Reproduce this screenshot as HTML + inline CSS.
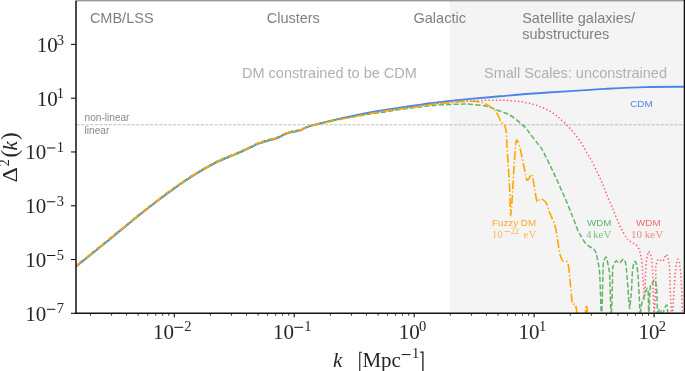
<!DOCTYPE html>
<html><head><meta charset="utf-8"><style>
html,body{margin:0;padding:0;background:#fff;width:685px;height:371px;overflow:hidden}
svg{display:block;will-change:transform}
.tk{stroke:#111;stroke-width:1.1}
.tkm{stroke:#111;stroke-width:0.9}
.tl{font-family:"Liberation Serif",serif;font-size:21px;fill:#262626}
.sup{font-size:14.5px}
.an{font-family:"Liberation Sans",sans-serif;font-size:14.5px;fill:#808080}
.an2{font-family:"Liberation Sans",sans-serif;font-size:14.5px;fill:#b0b0b0}
.sm{font-family:"Liberation Sans",sans-serif;font-size:9.8px}
.smf{font-family:"Liberation Serif",serif;font-size:11px;fill-opacity:0.8}
</style></head><body>
<svg width="685" height="371" viewBox="0 0 685 371">
<rect x="449.8" y="0" width="236" height="313.2" fill="#f4f4f4"/>
<line x1="76.5" y1="124.8" x2="684" y2="124.8" stroke="#bdbdbd" stroke-width="1" stroke-dasharray="3.2 1.4"/>
<text x="84.6" y="120.9" class="sm" fill="#888" style="font-size:10.1px">non-linear</text>
<text x="84.6" y="133.6" class="sm" fill="#888" style="font-size:10.1px">linear</text>
<text x="89.9" y="23" class="an">CMB/LSS</text>
<text x="266.7" y="23" class="an">Clusters</text>
<text x="413.5" y="23" class="an">Galactic</text>
<text x="522.2" y="23" class="an">Satellite galaxies/</text>
<text x="522.3" y="39.2" class="an">substructures</text>
<text x="242" y="77.8" class="an2">DM constrained to be CDM</text>
<text x="484" y="77.8" class="an2">Small Scales: unconstrained</text>
<text x="630.3" y="106.5" class="sm" fill="#4a86e8">CDM</text>
<text x="492" y="226.1" class="sm" fill="#ffa726">Fuzzy DM</text>
<text x="491.8" y="238" class="smf" fill="#ffa726">10</text>
<rect x="504.6" y="231.1" width="5.1" height="0.7" fill="#ffa726"/>
<text x="510.4" y="233.8" class="smf" fill="#ffa726" style="font-size:8.5px">22</text>
<text x="523.5" y="238" class="smf" fill="#ffa726">eV</text>
<text x="586.9" y="226.1" class="sm" fill="#62b566">WDM</text>
<text x="586" y="237.8" class="smf" fill="#62b566">4</text>
<text x="593.1" y="237.8" class="smf" fill="#62b566">keV</text>
<text x="636.1" y="226.1" class="sm" fill="#f26b6b">WDM</text>
<text x="631.1" y="237.8" class="smf" fill="#f26b6b">10</text>
<text x="644.8" y="237.8" class="smf" fill="#f26b6b">keV</text>
<defs><clipPath id="ax"><rect x="76" y="0" width="608" height="313.2"/></clipPath></defs>
<g clip-path="url(#ax)" fill="none" stroke-linejoin="round">
<path d="M74.00,267.60 C74.33,267.33 73.67,267.85 76.00,266.00 C78.33,264.15 84.00,259.70 88.00,256.50 C92.00,253.30 96.00,250.05 100.00,246.80 C104.00,243.55 108.00,240.27 112.00,237.00 C116.00,233.73 120.00,230.47 124.00,227.20 C128.00,223.93 132.00,220.62 136.00,217.40 C140.00,214.18 144.00,211.03 148.00,207.90 C152.00,204.77 156.00,201.63 160.00,198.60 C164.00,195.57 168.00,192.58 172.00,189.70 C176.00,186.82 180.00,184.00 184.00,181.30 C188.00,178.60 192.00,175.97 196.00,173.50 C200.00,171.03 204.33,168.55 208.00,166.50 C211.67,164.45 215.17,162.58 218.00,161.20 C220.83,159.82 221.33,159.73 225.00,158.20 C228.67,156.67 235.83,153.82 240.00,152.00 C244.17,150.18 247.00,148.73 250.00,147.30 C253.00,145.87 255.50,144.42 258.00,143.40 C260.50,142.38 263.00,141.82 265.00,141.20 C267.00,140.58 268.17,140.22 270.00,139.70 C271.83,139.18 274.33,138.63 276.00,138.10 C277.67,137.57 278.43,137.25 280.00,136.50 C281.57,135.75 283.60,134.35 285.40,133.60 C287.20,132.85 289.00,132.45 290.80,132.00 C292.60,131.55 294.40,131.35 296.20,130.91 C298.00,130.47 299.30,130.21 301.60,129.36 C303.90,128.52 306.10,127.04 310.00,125.84 C313.90,124.65 320.00,123.37 325.00,122.19 C330.00,121.00 335.00,119.78 340.00,118.73 C345.00,117.68 350.00,116.82 355.00,115.87 C360.00,114.92 365.00,113.88 370.00,113.01 C375.00,112.15 380.00,111.39 385.00,110.66 C390.00,109.92 392.50,109.64 400.00,108.60 C407.50,107.56 422.50,105.33 430.00,104.40 C437.50,103.47 440.00,103.48 445.00,103.00 C450.00,102.52 455.83,101.88 460.00,101.50 C464.17,101.12 465.00,100.90 470.00,100.70 C475.00,100.50 484.48,100.37 490.00,100.30 C495.52,100.23 500.27,100.30 503.10,100.30 C505.93,100.30 505.70,100.23 507.00,100.30 C508.30,100.37 509.67,100.57 510.90,100.70 C512.13,100.83 513.15,101.00 514.40,101.10 C515.65,101.20 517.08,101.18 518.40,101.30 C519.72,101.42 521.03,101.57 522.30,101.80 C523.57,102.03 524.75,102.45 526.00,102.70 C527.25,102.95 528.58,103.02 529.80,103.30 C531.02,103.58 532.07,104.03 533.30,104.40 C534.53,104.77 536.00,105.10 537.20,105.50 C538.40,105.90 539.33,106.33 540.50,106.80 C541.67,107.27 543.03,107.78 544.20,108.30 C545.37,108.82 546.37,109.32 547.50,109.90 C548.63,110.48 549.87,111.12 551.00,111.80 C552.13,112.48 553.23,113.25 554.30,114.00 C555.37,114.75 556.42,115.47 557.40,116.30 C558.38,117.13 558.78,117.70 560.20,119.00 C561.62,120.30 564.15,122.38 565.90,124.10 C567.65,125.82 569.03,127.40 570.70,129.30 C572.37,131.20 574.27,133.40 575.90,135.50 C577.53,137.60 579.07,139.75 580.50,141.90 C581.93,144.05 583.25,146.23 584.50,148.40 C585.75,150.57 586.80,152.80 588.00,154.90 C589.20,157.00 589.95,157.67 591.70,161.00 C593.45,164.33 596.58,170.85 598.50,174.90 C600.42,178.95 601.72,181.73 603.20,185.30 C604.68,188.87 605.92,192.67 607.40,196.30 C608.88,199.93 610.63,203.62 612.10,207.10 C613.57,210.58 614.73,213.72 616.20,217.20 C617.67,220.68 619.22,224.62 620.90,228.00 C622.58,231.38 624.95,235.42 626.30,237.50 C627.65,239.58 628.02,239.63 629.00,240.50 C629.98,241.37 631.07,242.03 632.20,242.70 C633.33,243.37 634.80,243.73 635.80,244.50 C636.80,245.27 637.57,246.25 638.20,247.30 C638.83,248.35 639.22,249.58 639.60,250.80 C639.98,252.02 640.20,253.35 640.50,254.60 C640.80,255.85 641.17,257.05 641.40,258.30 C641.63,259.55 641.75,260.83 641.90,262.10 C642.05,263.37 642.20,264.65 642.30,265.90 C642.40,267.15 642.42,267.72 642.50,269.60 C642.58,271.48 642.62,274.33 642.80,277.20 C642.98,280.07 643.35,283.17 643.60,286.80 C643.85,290.43 644.07,298.47 644.30,299.00 C644.53,299.53 644.80,294.12 645.00,290.00 C645.20,285.88 645.35,277.97 645.50,274.30 C645.65,270.63 645.77,269.90 645.90,268.00 C646.03,266.10 646.18,264.37 646.30,262.90 C646.42,261.43 646.38,260.47 646.60,259.20 C646.82,257.93 647.30,256.58 647.60,255.30 C647.90,254.02 647.93,251.73 648.40,251.50 C648.87,251.27 649.92,252.88 650.40,253.90 C650.88,254.92 651.03,256.42 651.30,257.60 C651.57,258.78 651.80,259.10 652.00,261.00 C652.20,262.90 652.37,267.13 652.50,269.00 C652.63,270.87 652.70,268.70 652.80,272.20 C652.90,275.70 652.87,283.20 653.10,290.00 C653.33,296.80 653.80,313.00 654.20,313.00 C654.60,313.00 655.23,296.53 655.50,290.00 C655.77,283.47 655.75,277.75 655.80,273.80 C655.85,269.85 655.62,268.18 655.80,266.30 C655.98,264.42 656.50,263.67 656.90,262.50 C657.30,261.33 657.58,259.67 658.20,259.30 C658.82,258.93 659.78,260.00 660.60,260.30 C661.42,260.60 662.47,261.55 663.10,261.10 C663.73,260.65 663.87,258.68 664.40,257.60 C664.93,256.52 665.72,254.60 666.30,254.60 C666.88,254.60 667.53,256.47 667.90,257.60 C668.27,258.73 668.27,260.13 668.50,261.40 C668.73,262.67 669.08,263.32 669.30,265.20 C669.52,267.08 669.65,268.57 669.80,272.70 C669.95,276.83 669.83,282.78 670.20,290.00 C670.57,297.22 671.37,316.00 672.00,316.00 C672.63,316.00 673.47,297.03 674.00,290.00 C674.53,282.97 674.87,277.67 675.20,273.80 C675.53,269.93 675.78,268.60 676.00,266.80 C676.22,265.00 676.28,264.25 676.50,263.00 C676.72,261.75 676.83,259.57 677.30,259.30 C677.77,259.03 678.90,260.42 679.30,261.40 C679.70,262.38 679.48,263.32 679.70,265.20 C679.92,267.08 680.27,268.57 680.60,272.70 C680.93,276.83 681.38,282.78 681.70,290.00 C682.02,297.22 682.37,311.67 682.50,316.00" stroke="#ff5c64" stroke-width="1.5" stroke-dasharray="1.4 2.3"/>
<path d="M74.00,268.05 C74.33,267.78 73.67,268.30 76.00,266.45 C78.33,264.60 84.00,260.15 88.00,256.95 C92.00,253.75 96.00,250.50 100.00,247.25 C104.00,244.00 108.00,240.72 112.00,237.45 C116.00,234.18 120.00,230.92 124.00,227.65 C128.00,224.38 132.00,221.07 136.00,217.85 C140.00,214.63 144.00,211.48 148.00,208.35 C152.00,205.22 156.00,202.08 160.00,199.05 C164.00,196.02 168.00,193.03 172.00,190.15 C176.00,187.27 180.00,184.45 184.00,181.75 C188.00,179.05 192.00,176.42 196.00,173.95 C200.00,171.48 204.33,169.00 208.00,166.95 C211.67,164.90 215.17,163.03 218.00,161.65 C220.83,160.27 221.33,160.18 225.00,158.65 C228.67,157.12 235.83,154.27 240.00,152.45 C244.17,150.63 247.00,149.18 250.00,147.75 C253.00,146.32 255.50,144.87 258.00,143.85 C260.50,142.83 263.00,142.27 265.00,141.65 C267.00,141.03 268.17,140.67 270.00,140.15 C271.83,139.63 274.33,139.08 276.00,138.55 C277.67,138.02 278.43,137.70 280.00,136.95 C281.57,136.20 283.60,134.80 285.40,134.05 C287.20,133.30 289.00,132.90 290.80,132.45 C292.60,132.00 294.40,131.80 296.20,131.35 C298.00,130.90 299.30,130.62 301.60,129.74 C303.90,128.87 306.10,127.36 310.00,126.11 C313.90,124.85 320.00,123.49 325.00,122.24 C330.00,120.98 335.00,119.69 340.00,118.57 C345.00,117.45 350.00,116.52 355.00,115.50 C360.00,114.48 365.00,113.37 370.00,112.44 C375.00,111.50 380.00,110.67 385.00,109.87 C390.00,109.06 395.00,108.33 400.00,107.60 C405.00,106.87 410.00,106.22 415.00,105.50 C420.00,104.78 425.00,103.97 430.00,103.30 C435.00,102.63 440.00,102.07 445.00,101.50 C450.00,100.93 455.83,100.33 460.00,99.90 C464.17,99.47 463.33,99.50 470.00,98.90 C476.67,98.30 490.00,97.15 500.00,96.30 C510.00,95.45 518.33,94.67 530.00,93.80 C541.67,92.93 557.50,91.92 570.00,91.10 C582.50,90.28 592.50,89.57 605.00,88.90 C617.50,88.23 631.50,87.45 645.00,87.10 C658.50,86.75 679.17,86.85 686.00,86.80" stroke="#4a86e8" stroke-width="1.9"/>
<path d="M74.00,267.15 C74.33,266.88 73.67,267.40 76.00,265.55 C78.33,263.70 84.00,259.25 88.00,256.05 C92.00,252.85 96.00,249.60 100.00,246.35 C104.00,243.10 108.00,239.82 112.00,236.55 C116.00,233.28 120.00,230.02 124.00,226.75 C128.00,223.48 132.00,220.17 136.00,216.95 C140.00,213.73 144.00,210.58 148.00,207.45 C152.00,204.32 156.00,201.18 160.00,198.15 C164.00,195.12 168.00,192.13 172.00,189.25 C176.00,186.37 180.00,183.55 184.00,180.85 C188.00,178.15 192.00,175.52 196.00,173.05 C200.00,170.58 204.33,168.10 208.00,166.05 C211.67,164.00 215.17,162.13 218.00,160.75 C220.83,159.37 221.33,159.28 225.00,157.75 C228.67,156.22 235.83,153.37 240.00,151.55 C244.17,149.73 247.00,148.28 250.00,146.85 C253.00,145.42 255.50,143.97 258.00,142.95 C260.50,141.93 263.00,141.37 265.00,140.75 C267.00,140.13 268.17,139.77 270.00,139.25 C271.83,138.73 274.33,138.18 276.00,137.65 C277.67,137.12 278.43,136.80 280.00,136.05 C281.57,135.30 283.60,133.90 285.40,133.15 C287.20,132.40 289.00,131.99 290.80,131.55 C292.60,131.11 294.40,130.90 296.20,130.49 C298.00,130.07 299.30,129.84 301.60,129.04 C303.90,128.25 306.10,126.81 310.00,125.69 C313.90,124.57 320.00,123.42 325.00,122.33 C330.00,121.25 335.00,120.13 340.00,119.17 C345.00,118.22 350.00,117.47 355.00,116.62 C360.00,115.76 365.00,114.83 370.00,114.06 C375.00,113.29 380.00,112.76 385.00,112.00 C390.00,111.24 395.00,110.23 400.00,109.50 C405.00,108.77 410.00,108.22 415.00,107.60 C420.00,106.98 425.00,106.28 430.00,105.80 C435.00,105.32 440.00,104.97 445.00,104.70 C450.00,104.43 455.83,104.28 460.00,104.20 C464.17,104.12 465.63,103.87 470.00,104.20 C474.37,104.53 481.62,105.20 486.20,106.20 C490.78,107.20 493.65,108.77 497.50,110.20 C501.35,111.63 505.77,112.88 509.30,114.80 C512.83,116.72 515.95,119.50 518.70,121.70 C521.45,123.90 523.92,126.00 525.80,128.00 C527.68,130.00 527.88,130.93 530.00,133.70 C532.12,136.47 536.43,141.88 538.50,144.60 C540.57,147.32 540.53,146.67 542.40,150.00 C544.27,153.33 547.40,159.88 549.70,164.60 C552.00,169.32 554.03,173.58 556.20,178.30 C558.37,183.02 561.08,189.28 562.70,192.90 C564.32,196.52 564.70,197.15 565.90,200.00 C567.10,202.85 568.82,207.30 569.90,210.00 C570.98,212.70 571.05,212.75 572.40,216.20 C573.75,219.65 576.67,227.57 578.00,230.70 C579.33,233.83 579.65,233.65 580.40,235.00 C581.15,236.35 581.60,237.37 582.50,238.80 C583.40,240.23 584.53,242.25 585.80,243.60 C587.07,244.95 588.75,246.00 590.10,246.90 C591.45,247.80 592.92,248.02 593.90,249.00 C594.88,249.98 595.47,251.37 596.00,252.80 C596.53,254.23 596.73,255.90 597.10,257.60 C597.47,259.30 597.83,261.02 598.20,263.00 C598.57,264.98 599.00,266.67 599.30,269.50 C599.60,272.33 599.63,272.25 600.00,280.00 C600.37,287.75 601.03,316.00 601.50,316.00 C601.97,316.00 602.52,288.47 602.80,280.00 C603.08,271.53 602.95,268.57 603.20,265.20 C603.45,261.83 603.83,261.15 604.30,259.80 C604.77,258.45 605.53,257.10 606.00,257.10 C606.47,257.10 606.70,258.27 607.10,259.80 C607.50,261.33 608.00,264.15 608.40,266.30 C608.80,268.45 609.23,269.58 609.50,272.70 C609.77,275.82 609.72,277.78 610.00,285.00 C610.28,292.22 610.80,316.00 611.20,316.00 C611.60,316.00 612.15,292.93 612.40,285.00 C612.65,277.07 612.37,271.97 612.70,268.40 C613.03,264.83 613.80,264.87 614.40,263.60 C615.00,262.33 615.48,260.87 616.30,260.80 C617.12,260.73 618.13,263.47 619.30,263.20 C620.47,262.93 622.32,259.47 623.30,259.20 C624.28,258.93 624.70,260.13 625.20,261.60 C625.70,263.07 626.02,265.60 626.30,268.00 C626.58,270.40 626.63,272.87 626.90,276.00 C627.17,279.13 627.63,283.20 627.90,286.80 C628.17,290.40 628.27,294.55 628.50,297.60 C628.73,300.65 629.08,303.32 629.30,305.10 C629.52,306.88 629.58,309.20 629.80,308.30 C630.02,307.40 630.32,302.75 630.60,299.70 C630.88,296.65 631.28,293.05 631.50,290.00 C631.72,286.95 631.78,283.80 631.90,281.40 C632.02,279.00 632.05,277.83 632.20,275.60 C632.35,273.37 632.43,270.25 632.80,268.00 C633.17,265.75 634.00,263.17 634.40,262.10 C634.80,261.03 634.83,261.23 635.20,261.60 C635.57,261.97 636.20,262.68 636.60,264.30 C637.00,265.92 637.33,269.07 637.60,271.30 C637.87,273.53 638.02,275.12 638.20,277.70 C638.38,280.28 638.52,283.48 638.70,286.80 C638.88,290.12 639.12,294.02 639.30,297.60 C639.48,301.18 639.67,305.23 639.80,308.30 C639.93,311.37 639.82,316.55 640.10,316.00 C640.38,315.45 640.93,308.00 641.50,305.00 C642.07,302.00 642.83,300.17 643.50,298.00 C644.17,295.83 644.92,293.58 645.50,292.00 C646.08,290.42 646.58,288.83 647.00,288.50 C647.42,288.17 647.77,288.08 648.00,290.00 C648.23,291.92 648.27,295.67 648.40,300.00 C648.53,304.33 648.62,316.00 648.80,316.00 C648.98,316.00 649.20,305.17 649.50,300.00 C649.80,294.83 650.07,287.83 650.60,285.00 C651.13,282.17 652.08,283.87 652.70,283.00 C653.32,282.13 653.85,280.07 654.30,279.80 C654.75,279.53 655.03,280.23 655.40,281.40 C655.77,282.57 656.23,284.10 656.50,286.80 C656.77,289.50 656.80,292.73 657.00,297.60 C657.20,302.47 657.37,313.93 657.70,316.00 C658.03,318.07 658.52,311.08 659.00,310.00 C659.48,308.92 660.10,308.50 660.60,309.50 C661.10,310.50 661.43,315.92 662.00,316.00 C662.57,316.08 663.42,311.58 664.00,310.00 C664.58,308.42 664.98,307.28 665.50,306.50 C666.02,305.72 666.75,304.60 667.10,305.30 C667.45,306.00 667.45,308.92 667.60,310.70 C667.75,312.48 667.93,315.12 668.00,316.00" stroke="#62b566" stroke-width="1.5" stroke-dasharray="5.1 2.2"/>
<path d="M74.00,267.60 C74.33,267.33 73.67,267.85 76.00,266.00 C78.33,264.15 84.00,259.70 88.00,256.50 C92.00,253.30 96.00,250.05 100.00,246.80 C104.00,243.55 108.00,240.27 112.00,237.00 C116.00,233.73 120.00,230.47 124.00,227.20 C128.00,223.93 132.00,220.62 136.00,217.40 C140.00,214.18 144.00,211.03 148.00,207.90 C152.00,204.77 156.00,201.63 160.00,198.60 C164.00,195.57 168.00,192.58 172.00,189.70 C176.00,186.82 180.00,184.00 184.00,181.30 C188.00,178.60 192.00,175.97 196.00,173.50 C200.00,171.03 204.33,168.55 208.00,166.50 C211.67,164.45 215.17,162.58 218.00,161.20 C220.83,159.82 221.33,159.73 225.00,158.20 C228.67,156.67 235.83,153.82 240.00,152.00 C244.17,150.18 247.00,148.73 250.00,147.30 C253.00,145.87 255.50,144.42 258.00,143.40 C260.50,142.38 263.00,141.82 265.00,141.20 C267.00,140.58 268.17,140.22 270.00,139.70 C271.83,139.18 274.33,138.63 276.00,138.10 C277.67,137.57 278.43,137.25 280.00,136.50 C281.57,135.75 283.60,134.35 285.40,133.60 C287.20,132.85 289.00,132.44 290.80,132.00 C292.60,131.56 294.40,131.35 296.20,130.93 C298.00,130.51 299.30,130.28 301.60,129.48 C303.90,128.67 306.10,127.23 310.00,126.10 C313.90,124.97 320.00,123.80 325.00,122.70 C330.00,121.60 335.00,120.53 340.00,119.50 C345.00,118.47 350.00,117.50 355.00,116.50 C360.00,115.50 365.00,114.42 370.00,113.50 C375.00,112.58 380.00,111.80 385.00,111.00 C390.00,110.20 395.00,109.37 400.00,108.70 C405.00,108.03 410.00,107.68 415.00,107.00 C420.00,106.32 425.00,105.25 430.00,104.60 C435.00,103.95 440.00,103.57 445.00,103.10 C450.00,102.63 455.83,102.10 460.00,101.80 C464.17,101.50 466.72,101.25 470.00,101.30 C473.28,101.35 477.00,101.62 479.70,102.10 C482.40,102.58 484.02,103.13 486.20,104.20 C488.38,105.27 491.08,107.08 492.80,108.50 C494.52,109.92 495.48,111.28 496.50,112.70 C497.52,114.12 498.20,115.52 498.90,117.00 C499.60,118.48 499.98,120.50 500.70,121.60 C501.42,122.70 502.48,122.85 503.20,123.60 C503.92,124.35 504.55,124.98 505.00,126.10 C505.45,127.22 505.65,128.82 505.90,130.30 C506.15,131.78 506.32,132.35 506.50,135.00 C506.68,137.65 506.73,141.63 507.00,146.20 C507.27,150.77 507.75,157.02 508.10,162.40 C508.45,167.78 508.83,173.90 509.10,178.50 C509.37,183.10 509.43,183.82 509.70,190.00 C509.97,196.18 510.20,215.60 510.70,215.60 C511.20,215.60 512.10,198.87 512.70,190.00 C513.30,181.13 513.77,170.23 514.30,162.40 C514.83,154.57 515.42,146.65 515.90,143.00 C516.38,139.35 516.52,139.70 517.20,140.50 C517.88,141.30 519.13,144.70 520.00,147.80 C520.87,150.90 521.60,155.32 522.40,159.10 C523.20,162.88 524.00,166.98 524.80,170.50 C525.60,174.02 526.05,179.53 527.20,180.20 C528.35,180.87 530.62,173.97 531.70,174.50 C532.78,175.03 532.83,178.98 533.70,183.40 C534.57,187.82 535.93,198.27 536.90,201.00 C537.87,203.73 538.58,200.07 539.50,199.80 C540.42,199.53 541.22,198.78 542.40,199.40 C543.58,200.02 545.38,201.25 546.60,203.50 C547.82,205.75 548.37,209.43 549.70,212.90 C551.03,216.37 553.38,220.52 554.60,224.30 C555.82,228.08 556.33,231.83 557.00,235.60 C557.67,239.37 558.07,243.67 558.60,246.90 C559.13,250.13 559.52,252.70 560.20,255.00 C560.88,257.30 561.48,259.48 562.70,260.70 C563.92,261.92 566.43,260.55 567.50,262.30 C568.57,264.05 568.62,267.57 569.10,271.20 C569.58,274.83 569.98,279.78 570.40,284.10 C570.82,288.42 571.27,293.87 571.60,297.10 C571.93,300.33 571.73,302.15 572.40,303.50 C573.07,304.85 574.67,303.12 575.60,305.20 C576.53,307.28 576.52,314.20 578.00,316.00 C579.48,317.80 583.15,317.80 584.50,316.00 C585.85,314.20 585.52,305.20 586.10,305.20 C586.68,305.20 587.68,314.20 588.00,316.00" stroke="#ffa500" stroke-width="1.6" stroke-dasharray="8.9 2.2 1.4 2.2"/>
</g>
<rect x="75.3" y="0" width="610" height="1.4" fill="#9a9a9a"/>
<line x1="76.0" y1="1.1" x2="76.0" y2="313.9" stroke="#111" stroke-width="1.5"/>
<line x1="75.4" y1="313.2" x2="685" y2="313.2" stroke="#111" stroke-width="1.4"/>
<line x1="684.4" y1="0" x2="684.4" y2="313.9" stroke="#111" stroke-width="1.4"/>
<line x1="174.30" y1="313.2" x2="174.30" y2="317.2" class="tk"/><line x1="294.25" y1="313.2" x2="294.25" y2="317.2" class="tk"/><line x1="414.20" y1="313.2" x2="414.20" y2="317.2" class="tk"/><line x1="534.15" y1="313.2" x2="534.15" y2="317.2" class="tk"/><line x1="654.10" y1="313.2" x2="654.10" y2="317.2" class="tk"/><line x1="90.46" y1="313.2" x2="90.46" y2="315.6" class="tkm"/><line x1="111.58" y1="313.2" x2="111.58" y2="315.6" class="tkm"/><line x1="126.57" y1="313.2" x2="126.57" y2="315.6" class="tkm"/><line x1="138.19" y1="313.2" x2="138.19" y2="315.6" class="tkm"/><line x1="147.69" y1="313.2" x2="147.69" y2="315.6" class="tkm"/><line x1="155.72" y1="313.2" x2="155.72" y2="315.6" class="tkm"/><line x1="162.68" y1="313.2" x2="162.68" y2="315.6" class="tkm"/><line x1="168.81" y1="313.2" x2="168.81" y2="315.6" class="tkm"/><line x1="210.41" y1="313.2" x2="210.41" y2="315.6" class="tkm"/><line x1="231.53" y1="313.2" x2="231.53" y2="315.6" class="tkm"/><line x1="246.52" y1="313.2" x2="246.52" y2="315.6" class="tkm"/><line x1="258.14" y1="313.2" x2="258.14" y2="315.6" class="tkm"/><line x1="267.64" y1="313.2" x2="267.64" y2="315.6" class="tkm"/><line x1="275.67" y1="313.2" x2="275.67" y2="315.6" class="tkm"/><line x1="282.63" y1="313.2" x2="282.63" y2="315.6" class="tkm"/><line x1="288.76" y1="313.2" x2="288.76" y2="315.6" class="tkm"/><line x1="330.36" y1="313.2" x2="330.36" y2="315.6" class="tkm"/><line x1="351.48" y1="313.2" x2="351.48" y2="315.6" class="tkm"/><line x1="366.47" y1="313.2" x2="366.47" y2="315.6" class="tkm"/><line x1="378.09" y1="313.2" x2="378.09" y2="315.6" class="tkm"/><line x1="387.59" y1="313.2" x2="387.59" y2="315.6" class="tkm"/><line x1="395.62" y1="313.2" x2="395.62" y2="315.6" class="tkm"/><line x1="402.58" y1="313.2" x2="402.58" y2="315.6" class="tkm"/><line x1="408.71" y1="313.2" x2="408.71" y2="315.6" class="tkm"/><line x1="450.31" y1="313.2" x2="450.31" y2="315.6" class="tkm"/><line x1="471.43" y1="313.2" x2="471.43" y2="315.6" class="tkm"/><line x1="486.42" y1="313.2" x2="486.42" y2="315.6" class="tkm"/><line x1="498.04" y1="313.2" x2="498.04" y2="315.6" class="tkm"/><line x1="507.54" y1="313.2" x2="507.54" y2="315.6" class="tkm"/><line x1="515.57" y1="313.2" x2="515.57" y2="315.6" class="tkm"/><line x1="522.53" y1="313.2" x2="522.53" y2="315.6" class="tkm"/><line x1="528.66" y1="313.2" x2="528.66" y2="315.6" class="tkm"/><line x1="570.26" y1="313.2" x2="570.26" y2="315.6" class="tkm"/><line x1="591.38" y1="313.2" x2="591.38" y2="315.6" class="tkm"/><line x1="606.37" y1="313.2" x2="606.37" y2="315.6" class="tkm"/><line x1="617.99" y1="313.2" x2="617.99" y2="315.6" class="tkm"/><line x1="627.49" y1="313.2" x2="627.49" y2="315.6" class="tkm"/><line x1="635.52" y1="313.2" x2="635.52" y2="315.6" class="tkm"/><line x1="642.48" y1="313.2" x2="642.48" y2="315.6" class="tkm"/><line x1="648.61" y1="313.2" x2="648.61" y2="315.6" class="tkm"/><line x1="71" y1="44.40" x2="76" y2="44.40" class="tk"/><line x1="71" y1="98.18" x2="76" y2="98.18" class="tk"/><line x1="71" y1="151.96" x2="76" y2="151.96" class="tk"/><line x1="71" y1="205.74" x2="76" y2="205.74" class="tk"/><line x1="71" y1="259.52" x2="76" y2="259.52" class="tk"/><line x1="71" y1="313.30" x2="76" y2="313.30" class="tk"/>
<text x="36.65" y="51.90" class="tl">10</text><text x="56.65" y="44.50" class="tl sup">3</text><text x="36.65" y="105.68" class="tl">10</text><text x="56.65" y="98.28" class="tl sup">1</text><text x="25.25" y="159.46" class="tl">10</text><rect x="47.00" y="147.46" width="8.30" height="1" fill="#111"/><text x="56.65" y="152.06" class="tl sup">1</text><text x="25.25" y="213.24" class="tl">10</text><rect x="47.00" y="201.24" width="8.30" height="1" fill="#111"/><text x="56.65" y="205.84" class="tl sup">3</text><text x="25.25" y="267.02" class="tl">10</text><rect x="47.00" y="255.02" width="8.30" height="1" fill="#111"/><text x="56.65" y="259.62" class="tl sup">5</text><text x="25.25" y="320.80" class="tl">10</text><rect x="47.00" y="308.80" width="8.30" height="1" fill="#111"/><text x="56.65" y="313.40" class="tl sup">7</text>
<text x="153.05" y="338.50" class="tl">10</text><rect x="174.30" y="326.80" width="8.90" height="1" fill="#111"/><text x="184.25" y="330.80" class="tl sup">2</text><text x="273.00" y="338.50" class="tl">10</text><rect x="294.25" y="326.80" width="8.90" height="1" fill="#111"/><text x="304.20" y="330.80" class="tl sup">1</text><text x="398.65" y="338.50" class="tl">10</text><text x="418.95" y="330.80" class="tl sup">0</text><text x="518.60" y="338.50" class="tl">10</text><text x="538.90" y="330.80" class="tl sup">1</text><text x="638.55" y="338.50" class="tl">10</text><text x="658.85" y="330.80" class="tl sup">2</text>
<text x="332.9" y="367" class="tl" font-style="italic">k</text><path d="M362,352.2 H359.75 V372" fill="none" stroke="#2a2a2a" stroke-width="1.15"/><text x="362.4" y="367" class="tl">Mpc</text><rect x="401.70" y="354.10" width="8.80" height="1" fill="#111"/><text x="412.12" y="357.6" class="tl sup">1</text><path d="M420.2,352.2 H422.9 V372" fill="none" stroke="#1a1a1a" stroke-width="1.3"/>
<text transform="translate(17.00,182.62) rotate(-90) scale(1.12,1)" class="tl" style="font-size:21.5px">Δ</text><text transform="translate(9.40,166.44) rotate(-90)" class="tl sup" >2</text><text transform="translate(17.00,157.50) rotate(-90)" class="tl" style="font-size:23px">(</text><text transform="translate(17.00,150.60) rotate(-90)" class="tl" font-style="italic">k</text><text transform="translate(17.00,139.90) rotate(-90)" class="tl" style="font-size:23px">)</text>
</svg>
</body></html>
